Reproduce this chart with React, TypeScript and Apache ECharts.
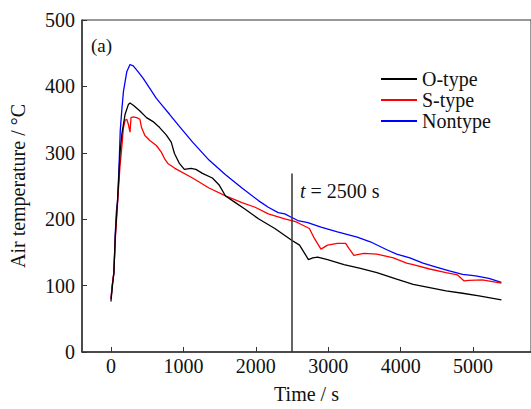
import React, { useEffect, useRef } from "react";
import * as echarts from "echarts";

const oTypeTime = [0, 20, 40, 60, 80, 100, 125, 150, 195, 240, 263, 308, 400, 491, 581, 672, 763, 832, 877, 945, 1013, 1104, 1173, 1263, 1400, 1491, 1582, 1718, 1854, 2036, 2263, 2490, 2604, 2672, 2727, 2786, 2854, 2990, 3218, 3445, 3672, 3945, 4173, 4400, 4627, 4855, 5082, 5391];
const oTypeTemp = [76, 100, 118, 175, 210, 245, 300, 328, 358, 372.6, 375, 371.6, 363, 353, 347, 338, 327, 316, 299, 284, 275, 276.7, 275, 269, 262, 252, 235, 225, 215, 200.6, 186, 168.6, 161, 149, 139, 141.6, 143, 139, 131.7, 125.8, 119.5, 109.6, 102, 97, 92, 88.5, 84.5, 78.6];

const sTypeTime = [0, 20, 40, 60, 80, 100, 125, 150, 172, 195, 218, 240, 263, 277, 308, 354, 400, 422, 468, 536, 627, 695, 741, 786, 877, 1127, 1354, 1582, 1809, 1991, 2172, 2400, 2536, 2581, 2740, 2809, 2900, 2990, 3127, 3240, 3286, 3354, 3491, 3672, 3900, 4082, 4173, 4400, 4627, 4786, 4877, 4945, 5127, 5391];
const sTypeTemp = [80, 103, 120, 170, 205, 240, 280, 308.7, 338, 349, 350.5, 343, 331, 353, 354, 353, 350.5, 338, 326, 318.6, 311, 301, 291, 284, 277, 262, 247, 235, 225, 218, 208, 200.6, 196.6, 194.7, 186, 171, 155, 161, 163.7, 163.7, 156, 145.5, 148.4, 147.5, 141.6, 134, 131.7, 125, 119.5, 116, 107, 108, 108.6, 103.7];

const nonTypeTime = [0, 20, 40, 60, 75, 90, 110, 128, 150, 172, 218, 263, 308, 376, 445, 536, 627, 718, 809, 936, 1127, 1354, 1582, 1809, 2036, 2172, 2309, 2400, 2490, 2581, 2718, 2900, 3127, 3400, 3581, 3809, 3945, 4127, 4309, 4491, 4672, 4855, 5036, 5218, 5391];
const nonTypeTemp = [80, 102, 120, 180, 212, 225, 275, 333, 365, 392, 422, 433, 431, 422, 412, 397, 382, 370, 358, 341, 316, 289, 267, 247, 228, 218, 210, 208, 203, 198, 195, 188, 181, 173, 166, 154, 147.5, 141.6, 134, 128, 122, 117, 114.5, 111, 105];

const seriesNames = ["O-type", "S-type", "Nontype"];
const seriesColors = ["#000000", "#ff0000", "#0000ff"];
const xTicks = [0, 1000, 2000, 3000, 4000, 5000];
const markTime = 2500;
const markTop = 269;

const zip = (a: number[], b: number[]) => a.map((v, i) => [v, b[i]]);

const FONT = "Liberation Serif";

export default function App() {
  const ref = useRef<HTMLDivElement>(null);
  useEffect(() => {
    if (!ref.current) return;
    const chart = echarts.init(ref.current, null, { renderer: "svg" });
    const datasets = [zip(oTypeTime, oTypeTemp), zip(sTypeTime, sTypeTemp), zip(nonTypeTime, nonTypeTemp)];
    chart.setOption({
      animation: false,
      textStyle: { fontFamily: FONT },
      grid: { left: 82, top: 20, bottom: 50, right: -5, show: true, borderColor: "#333", borderWidth: 1 },
      legend: {
        orient: "vertical",
        left: 381,
        top: 69,
        padding: 0,
        itemWidth: 36,
        itemHeight: 2,
        itemGap: 1,
        icon: "rect",
        textStyle: { fontFamily: FONT, fontSize: 20, color: "#111", lineHeight: 20 },
        data: seriesNames,
      },
      xAxis: {
        type: "value",
        min: -400,
        max: 5800,
        interval: 1000,
        name: "Time / s",
        nameLocation: "middle",
        nameGap: 32,
        nameTextStyle: { fontFamily: FONT, fontSize: 20, color: "#111" },
        axisLine: { onZero: false, lineStyle: { color: "#333", width: 1.5 } },
        axisLabel: {
          fontFamily: FONT,
          fontSize: 20,
          color: "#111",
          margin: 4,
          customValues: xTicks,
          formatter: (v: number) => String(v),
        },
        axisTick: { inside: true, length: 5, customValues: xTicks, lineStyle: { color: "#333" } },
        splitLine: { show: false },
      },
      yAxis: {
        type: "value",
        min: 0,
        max: 500,
        interval: 100,
        name: "Air temperature / °C",
        nameLocation: "middle",
        nameGap: 54,
        nameTextStyle: { fontFamily: FONT, fontSize: 20, color: "#111" },
        axisLine: { show: true, onZero: false, lineStyle: { color: "#333", width: 1.5 } },
        axisTick: { show: true, inside: true, length: 5, lineStyle: { color: "#333" } },
        axisLabel: { fontFamily: FONT, fontSize: 20, color: "#111", margin: 7 },
        splitLine: { show: false },
      },
      graphic: [
        {
          type: "text",
          left: 91,
          top: 36,
          style: { text: "(a)", fontFamily: FONT, fontSize: 19, fill: "#111" },
        },
        {
          type: "text",
          left: 300,
          top: 181,
          style: {
            text: "{i|t} = 2500 s",
            fontFamily: FONT,
            fontSize: 20,
            fill: "#111",
            rich: { i: { fontStyle: "italic", fontFamily: FONT, fontSize: 20 } },
          },
        },
      ],
      series: datasets.map((d, i) => ({
        name: seriesNames[i],
        type: "line",
        data: d,
        showSymbol: false,
        symbol: "none",
        z: 3 - i,
        lineStyle: { color: seriesColors[i], width: 1.3 },
        itemStyle: { color: seriesColors[i] },
        markLine:
          i === 0
            ? {
                silent: true,
                symbol: "none",
                label: { show: false },
                lineStyle: { color: "#333", width: 1.5, type: "solid" },
                data: [[{ coord: [markTime, 0] }, { coord: [markTime, markTop] }]],
              }
            : undefined,
      })),
    });
    return () => chart.dispose();
  }, []);
  return <div ref={ref} style={{ width: 531, height: 409, position: "absolute", left: 0, top: 0 }} />;
}
